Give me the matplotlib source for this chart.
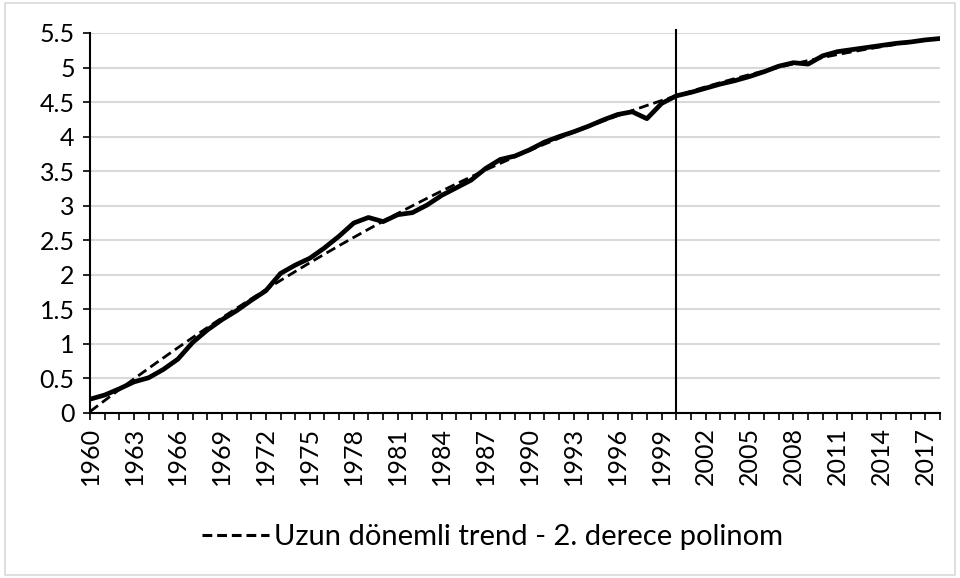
import matplotlib
matplotlib.use("Agg")
import matplotlib.pyplot as plt
import numpy as np
from matplotlib.patches import Rectangle
from matplotlib.lines import Line2D

plt.rcParams['font.family'] = ['Lato', 'DejaVu Sans']

years = list(range(1960, 2019))
values = [0.20, 0.26, 0.35, 0.45, 0.51, 0.63, 0.78, 1.02, 1.20, 1.35,
          1.48, 1.63, 1.77, 2.02, 2.14, 2.24, 2.39, 2.56, 2.75, 2.83,
          2.77, 2.87, 2.90, 3.01, 3.15, 3.26, 3.37, 3.54, 3.67, 3.72,
          3.81, 3.92, 4.00, 4.07, 4.15, 4.24, 4.32, 4.36, 4.26, 4.48,
          4.59, 4.64, 4.70, 4.76, 4.81, 4.87, 4.94, 5.02, 5.07, 5.05,
          5.17, 5.23, 5.26, 5.29, 5.32, 5.35, 5.37, 5.40, 5.42]
legend_label = "Uzun dönemli trend - 2. derece polinom"
break_year = 2000
yticks = [0, 0.5, 1, 1.5, 2, 2.5, 3, 3.5, 4, 4.5, 5, 5.5]
ytick_labels = ["0", "0.5", "1", "1.5", "2", "2.5", "3", "3.5", "4", "4.5", "5", "5.5"]

x = np.array(years, dtype=float)
y = np.array(values)
coef = np.polyfit(x - 1960, y, 2)
trend = np.polyval(coef, x - 1960)

fig = plt.figure(figsize=(9.6, 5.78), dpi=100)
ax = fig.add_axes([90/960, 1-413/578, 850/960, 380/578])

ax.plot(x, y, color='black', lw=3.4, solid_joinstyle='round', solid_capstyle='round', zorder=3)
ax.plot(x, trend, color='black', lw=2.0, dashes=(3.6, 1.8), zorder=4)
ax.axvline(break_year, ymax=1.008, color='black', lw=1.5, zorder=5, clip_on=False)

ax.set_xlim(1960, 2018)
ax.set_ylim(0, 5.5)
ax.set_yticks(yticks)
ax.set_yticklabels(ytick_labels)
ax.set_xticks(years)
ax.set_xticklabels([str(yr) if (yr - 1960) % 3 == 0 else '' for yr in years], rotation=90)

ax.grid(axis='y', color='#d9d9d9', lw=1.5, zorder=0)
ax.set_axisbelow(True)
for s in ['top', 'right']:
    ax.spines[s].set_visible(False)
for s in ['left', 'bottom']:
    ax.spines[s].set_color('black')
    ax.spines[s].set_linewidth(1.5)
ax.tick_params(axis='y', direction='out', length=5, width=1.2, labelsize=18, pad=6)
ax.tick_params(axis='x', direction='out', length=5, width=1.2, labelsize=18, pad=5)

handle = Line2D([], [], color='black', lw=2.2, dashes=(3.2, 1.6))
fig.legend([handle], [legend_label], loc='center', bbox_to_anchor=(0.513, 0.071),
           frameon=False, fontsize=21, handlelength=2.3, handletextpad=0.15)

fig.patches.append(Rectangle((5/960, 3/578), 950/960, 572/578, transform=fig.transFigure,
                             fill=False, edgecolor='#d9d9d9', lw=1.2))

fig.savefig('out.png', dpi=100)
